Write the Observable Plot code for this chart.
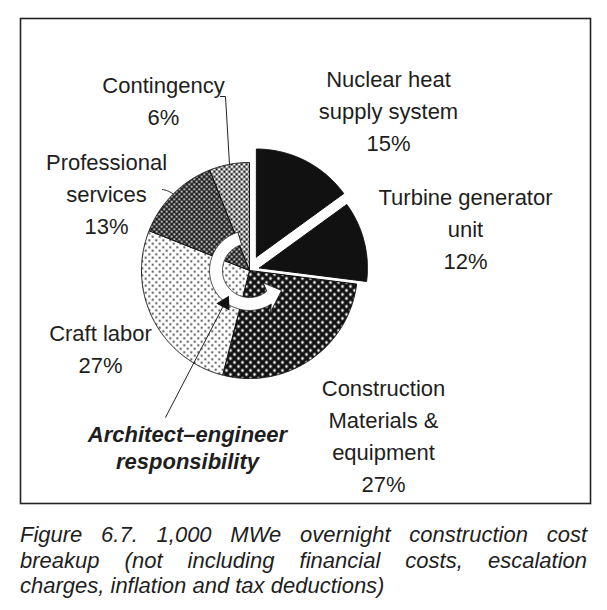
<!DOCTYPE html>
<html>
<head>
<meta charset="utf-8">
<script src="https://cdn.jsdelivr.net/npm/d3@7"></script>
<script src="https://cdn.jsdelivr.net/npm/@observablehq/plot@0.6"></script>
<style>
  html, body { margin: 0; padding: 0; background: #fff; }
  body { width: 607px; height: 610px; overflow: hidden; font-family: "Liberation Sans", Arial, sans-serif; }
  #caption { margin: 10px 0 0 20px; width: 567px; font-style: italic; font-size: 22px; line-height: 25.5px; color: #1e1e1e; }
  #caption div { white-space: nowrap; }
  #caption .j { text-align: justify; text-align-last: justify; }
</style>
</head>
<body>
<div id="chart"></div>
<div id="caption"></div>
<script>
// ---------------- DATA ----------------
const categories = [
  "Nuclear heat supply system",
  "Turbine generator unit",
  "Construction Materials & equipment",
  "Craft labor",
  "Professional services",
  "Contingency"
];
const shares = [15, 12, 27, 27, 13, 6];
const labelLines = [
  ["Nuclear heat", "supply system"],
  ["Turbine generator", "unit"],
  ["Construction", "Materials &", "equipment"],
  ["Craft labor"],
  ["Professional", "services"],
  ["Contingency"]
];
const aeLabel = ["Architect\u2013engineer", "responsibility"];
const captionLines = [
  "Figure 6.7. 1,000 MWe overnight construction cost",
  "breakup (not including financial costs, escalation",
  "charges, inflation and tax deductions)"
];

// ---------------- LAYOUT (positions/styles only) ----------------
const PX = 108, CX = 249, CY = 270;            // pixels per pie radius, pie centre
const ux = px => (px - CX) / PX, uy = py => (CY - py) / PX;
const explode = [0.14, 0.095, 0, 0, 0, 0];     // radial offset of each slice
const fills = ["#111", "#111", "url(#pConstr)", "url(#pCraft)", "url(#pProf)", "url(#pCont)"];
const labelBaseline = [[388, 79], [465, 197], [383, 388], [100, 333], [106, 162], [163, 85]];
const FS = 22, LH = 32;
const rad = d => d * Math.PI / 180;

// ---------------- GEOMETRY FROM DATA ----------------
const arcs = d3.pie().sort(null).value(d => d)(shares);
const sliceRows = [];
arcs.forEach((p, i) => {
  const mid = (p.startAngle + p.endAngle) / 2;
  const ox = explode[i] * Math.sin(mid), oy = explode[i] * Math.cos(mid);
  const base = {cat: categories[i], fill: fills[i]};
  sliceRows.push({...base, x: ox, y: oy});
  const n = Math.max(2, Math.ceil((p.endAngle - p.startAngle) / rad(0.5)));
  for (let k = 0; k <= n; k++) {
    const a = p.startAngle + (p.endAngle - p.startAngle) * k / n;
    sliceRows.push({...base, x: ox + Math.sin(a), y: oy + Math.cos(a)});
  }
  sliceRows.push({...base, x: ox, y: oy});
});

const labelRows = categories.map((c, i) => ({
  x: ux(labelBaseline[i][0]),
  y: uy(labelBaseline[i][1] - 0.71 * FS),
  text: [...labelLines[i], `${shares[i]}%`].join("\n")
}));

// circular white arrow (A–E responsibility), polar: [angle deg clockwise from top, radius]
const arrowPolar = [];
for (let a = 343; a >= 147; a -= 1) arrowPolar.push([a, 0.37]);
arrowPolar.push([153, 0.43], [122, 0.35], [132, 0.17]);
for (let a = 140; a <= 343; a += 1) arrowPolar.push([a, 0.25]);
arrowPolar.push([343, 0.37]);
const arrowRows = arrowPolar.map(([a, r]) => ({x: r * Math.sin(rad(a)), y: r * Math.cos(rad(a))}));

const contLeader = [[220, 96], [225, 96], [229, 164]].map(([x, y]) => ({x: ux(x), y: uy(y)}));
const servLeader = [[162, 189], [167, 190], [172, 193]].map(([x, y]) => ({x: ux(x), y: uy(y)}));
const aeLeader = [{x1: ux(165), y1: uy(417), x2: ux(222), y2: uy(307)}];
const aeHead = [{x: ux(224.4), y: uy(302.8)}];

const chart = Plot.plot({
  width: 607,
  height: 512,
  marginLeft: 20,
  marginRight: 17,
  marginTop: 18,
  marginBottom: 9,
  style: {fontFamily: "Liberation Sans, Arial, sans-serif", background: "#fff"},
  x: {domain: [ux(20), ux(590)], axis: null},
  y: {domain: [uy(503), uy(18)], axis: null},
  color: {type: "identity"},
  marks: [
    Plot.frame({stroke: "#222", strokeWidth: 1.6}),
    Plot.line(sliceRows, {x: "x", y: "y", z: "cat", fill: "fill", stroke: "#111", strokeWidth: 1, strokeLinejoin: "round"}),
    Plot.line(arrowRows, {x: "x", y: "y", fill: "#fff", stroke: "#111", strokeWidth: 0.8, strokeLinejoin: "round"}),
    Plot.line(contLeader, {x: "x", y: "y", stroke: "#222", strokeWidth: 1}),
    Plot.line(servLeader, {x: "x", y: "y", stroke: "#222", strokeWidth: 1, curve: "basis"}),
    Plot.link(aeLeader, {x1: "x1", y1: "y1", x2: "x2", y2: "y2", stroke: "#222", strokeWidth: 1}),
    Plot.dot(aeHead, {x: "x", y: "y", symbol: "triangle", r: 5.5, rotate: 28, fill: "#111", stroke: "none"}),
    Plot.text(labelRows, {x: "x", y: "y", text: "text", textAnchor: "middle", lineAnchor: "top",
      lineHeight: LH / FS, fontSize: FS, fill: "#1e1e1e"}),
    Plot.text([aeLabel.join("\n")], {x: ux(187), y: uy(438 - 0.71 * FS), text: d => d, textAnchor: "middle",
      lineAnchor: "top", lineHeight: 27 / FS, fontSize: FS, fontWeight: "bold", fontStyle: "italic", fill: "#1e1e1e"})
  ]
});

// patterns
const defs = d3.select(chart).insert("defs", ":first-child");
function dotPattern(id, size, bg, fg, r, pts) {
  const p = defs.append("pattern").attr("id", id).attr("patternUnits", "userSpaceOnUse")
    .attr("width", size).attr("height", size);
  p.append("rect").attr("width", size).attr("height", size).attr("fill", bg);
  pts.forEach(([x, y]) => p.append("circle").attr("cx", x).attr("cy", y).attr("r", r).attr("fill", fg));
}
dotPattern("pConstr", 8, "#111", "#fff", 1.4, [[2, 2], [6, 6]]);
dotPattern("pCraft", 7, "#fff", "#111", 0.95, [[1.75, 1.75], [5.25, 5.25]]);
dotPattern("pProf", 5, "#1a1a1a", "#fff", 1.05, [[1.25, 1.25], [3.75, 3.75]]);
dotPattern("pCont", 5, "#1a1a1a", "#fff", 1.55, [[1.25, 1.25], [3.75, 3.75]]);

document.getElementById("chart").appendChild(chart);

const cap = document.getElementById("caption");
captionLines.forEach((t, i) => {
  const d = document.createElement("div");
  d.textContent = t;
  if (i < captionLines.length - 1) d.className = "j";
  cap.appendChild(d);
});
</script>
</body>
</html>
